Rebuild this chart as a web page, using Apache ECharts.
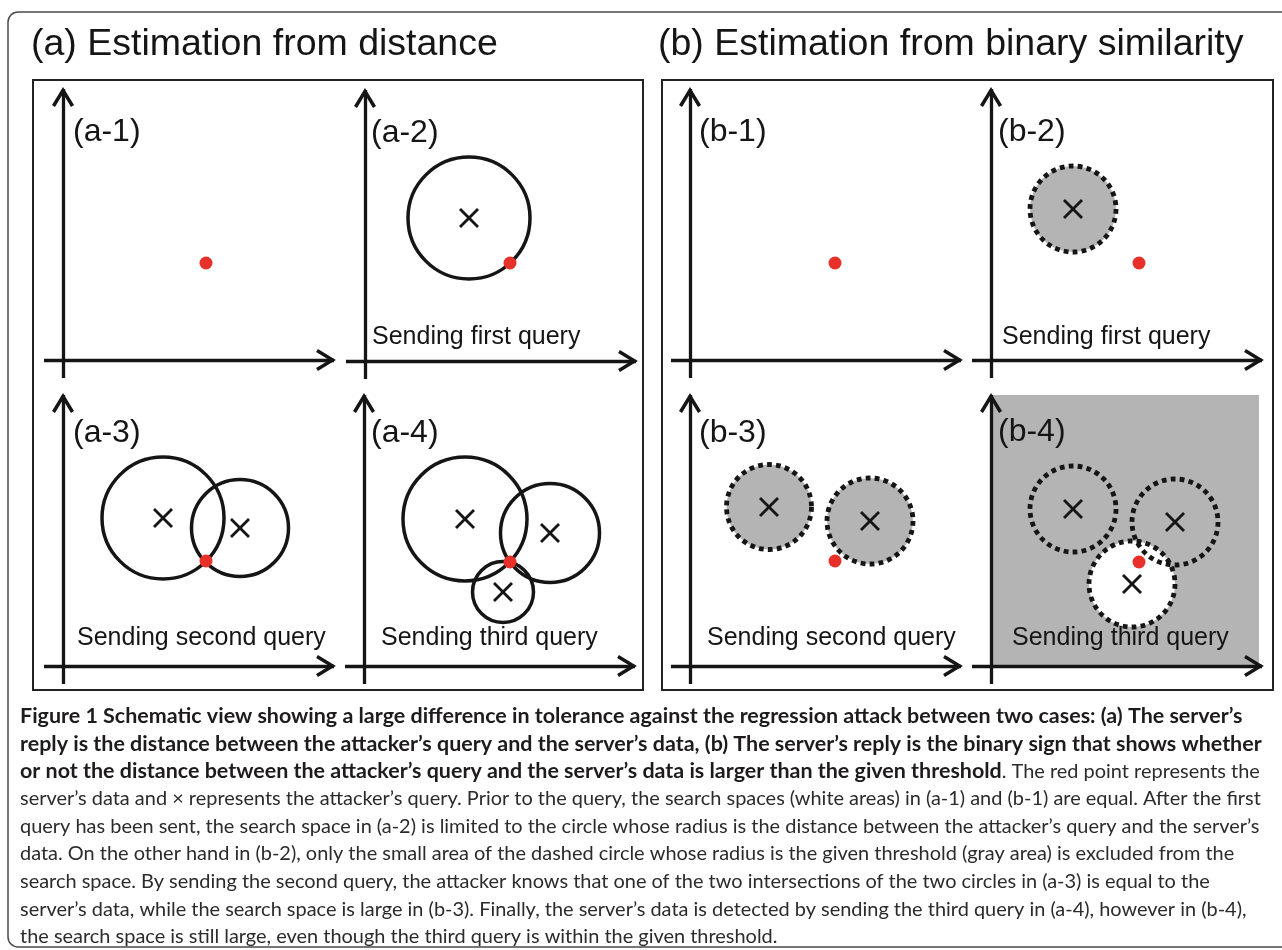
<!DOCTYPE html>
<html>
<head>
<meta charset="utf-8">
<script src="https://cdn.jsdelivr.net/npm/echarts@6/dist/echarts.min.js"></script>
<style>html,body{margin:0;padding:0;background:#fff}#c{width:1282px;height:950px}</style>
</head>
<body>
<div id="c"></div>
<script>
// ---------------- DATA (1 unit ≈ 1 px in each panel) ----------------
const groupTitles = ['(a) Estimation from distance', '(b) Estimation from binary similarity'];
const panelIds = ['(a-1)', '(a-2)', '(a-3)', '(a-4)', '(b-1)', '(b-2)', '(b-3)', '(b-4)'];
const panelNotes = ['', 'Sending first query', 'Sending second query', 'Sending third query',
                    '', 'Sending first query', 'Sending second query', 'Sending third query'];
// server's data (red point) in each panel
const serverX = [143, 145, 143, 146, 145, 148, 145, 148];
const serverY = [97, 98, 105, 104, 97, 97, 105, 104];
// attacker's queries (× marks) in each panel
const queryX = [[], [104], [100, 177], [101, 186, 139], [], [82], [79, 180], [82, 184, 141]];
const queryY = [[], [143], [148, 138], [147, 133, 74], [], [151], [159, 145], [157, 144, 82]];
// circle radius around each query (distance in (a), threshold in (b))
const queryRadius = [[], [61], [61, 48.5], [62, 49.5, 30.5], [], [43], [42.5, 43], [43, 43, 43]];
// in (b): 1 = area excluded from the search space (gray), 0 = kept (white)
const queryExcluded = [[], [0], [0, 0], [0, 0, 0], [], [1], [1, 1], [1, 1, 0]];
// (b-4): remaining search space shown gray
const grayPanel = 7;
const grayFrom = [0, 0];
const grayTo = [268, 271];
const axisXRange = [-19, 271];
const axisYRange = [-18, 271];

const captionLines = [
  [['b', 'Figure 1 Schematic view showing a large difference in tolerance against the regression attack between two cases: (a) The server\u2019s']],
  [['b', 'reply is the distance between the attacker\u2019s query and the server\u2019s data, (b) The server\u2019s reply is the binary sign that shows whether']],
  [['b', 'or not the distance between the attacker\u2019s query and the server\u2019s data is larger than the given threshold'], ['r', '. The red point represents the']],
  [['r', 'server\u2019s data and \u00d7 represents the attacker\u2019s query. Prior to the query, the search spaces (white areas) in (a-1) and (b-1) are equal. After the first']],
  [['r', 'query has been sent, the search space in (a-2) is limited to the circle whose radius is the distance between the attacker\u2019s query and the server\u2019s']],
  [['r', 'data. On the other hand in (b-2), only the small area of the dashed circle whose radius is the given threshold (gray area) is excluded from the']],
  [['r', 'search space. By sending the second query, the attacker knows that one of the two intersections of the two circles in (a-3) is equal to the']],
  [['r', 'server\u2019s data, while the search space is large in (b-3). Finally, the server\u2019s data is detected by sending the third query in (a-4), however in (b-4),']],
  [['r', 'the search space is still large, even though the third query is within the given threshold.']]
];

// ---------------- LAYOUT ----------------
const origins = [[63, 360], [365, 361], [63, 666], [364, 666], [690, 360], [991, 360], [690, 666], [991, 666]];
const idPos = [[73, 132], [371, 133], [73, 433], [371, 433], [699, 132], [998, 132], [699, 433], [998, 432]];
const notePos = [null, [372, 337], [77, 638], [381, 638], null, [1002, 337], [707, 638], [1012, 638]];
const GRAY = '#b4b4b4';
const INK = '#151515';
const ARROW = 'path://M11,0 L22,18 L19,19.8 L11,6.7 L3,19.8 L0,18 Z';
const CROSS = 'path://M0,2 L2,0 L10,8 L18,0 L20,2 L12,10 L20,18 L18,20 L10,12 L2,20 L0,18 L8,10 Z';
const SANS = '"Liberation Sans", Arial, sans-serif';
const CAP = 'Lato, "Open Sans", sans-serif';

const mctx = document.createElement('canvas').getContext('2d');
function measure(text, weight, family) {
  mctx.font = weight + ' 100px ' + family;
  return mctx.measureText(text).width;
}
const CAP_W = 1242;
let boldSize = Math.min(100 * CAP_W / measure(captionLines[0][0][1], 'bold', CAP),
                        100 * CAP_W / measure(captionLines[1][0][1], 'bold', CAP));
let regSize = Math.min(100 * CAP_W / measure(captionLines[3][0][1], 'normal', CAP),
                       100 * CAP_W / measure(captionLines[4][0][1], 'normal', CAP));
const mixedW = measure(captionLines[2][0][1], 'bold', CAP) * boldSize / 100 +
               measure(captionLines[2][1][1], 'normal', CAP) * regSize / 100;
if (mixedW > CAP_W) { boldSize *= CAP_W / mixedW; regSize *= CAP_W / mixedW; }

const grids = [], xAxes = [], yAxes = [], series = [], titles = [];
const axisLineCfg = {
  show: true, onZero: true, symbol: ['none', ARROW], symbolSize: [22, 20], symbolOffset: [0, -8],
  lineStyle: { color: INK, width: 3.3, cap: 'butt' }
};

function circleRenderer(stage, threshold) {
  return function (params, api) {
    const c = api.coord([api.value(0), api.value(1)]);
    const r = api.size([api.value(2), 0])[0];
    if (stage === 'fill') {
      return { type: 'circle', shape: { cx: c[0], cy: c[1], r: r },
               style: { fill: api.value(3) === 1 ? GRAY : '#ffffff', stroke: null } };
    }
    return { type: 'circle', shape: { cx: c[0], cy: c[1], r: r },
             style: threshold
               ? { fill: 'none', stroke: INK, lineWidth: 4.8, lineDash: [4.8, 4.2], lineCap: 'butt' }
               : { fill: 'none', stroke: INK, lineWidth: 3.5 } };
  };
}

panelIds.forEach(function (id, i) {
  const o = origins[i];
  const threshold = i >= 4;
  grids.push({ left: o[0] + axisXRange[0], top: o[1] - axisYRange[1],
               width: axisXRange[1] - axisXRange[0], height: axisYRange[1] - axisYRange[0],
               outerBoundsMode: 'none' });
  xAxes.push({ gridIndex: i, type: 'value', min: axisXRange[0], max: axisXRange[1], z: 8,
               axisLine: axisLineCfg, axisTick: { show: false }, axisLabel: { show: false }, splitLine: { show: false } });
  yAxes.push({ gridIndex: i, type: 'value', min: axisYRange[0], max: axisYRange[1], z: 8,
               axisLine: axisLineCfg, axisTick: { show: false }, axisLabel: { show: false }, splitLine: { show: false } });

  const circles = queryX[i].map(function (x, k) { return [x, queryY[i][k], queryRadius[i][k], queryExcluded[i][k]]; });
  if (threshold) {
    const fillSeries = {
      type: 'custom', xAxisIndex: i, yAxisIndex: i, z: 2, silent: true, animation: false,
      encode: { x: 0, y: 1 }, data: circles, renderItem: circleRenderer('fill', true)
    };
    if (i === grayPanel) {
      fillSeries.markArea = {
        silent: true, z: 1,
        itemStyle: { color: GRAY, opacity: 1, borderWidth: 0 },
        data: [[{ coord: grayFrom }, { coord: grayTo }]]
      };
    }
    series.push(fillSeries);
  }
  series.push({
    type: 'custom', xAxisIndex: i, yAxisIndex: i, z: 3, silent: true, animation: false,
    encode: { x: 0, y: 1 }, data: circles, renderItem: circleRenderer('outline', threshold)
  });
  series.push({
    type: 'scatter', xAxisIndex: i, yAxisIndex: i, z: 4, silent: true, animation: false,
    symbol: CROSS, symbolSize: 20, itemStyle: { color: INK, opacity: 1 },
    data: queryX[i].map(function (x, k) { return [x, queryY[i][k]]; })
  });
  series.push({
    type: 'scatter', xAxisIndex: i, yAxisIndex: i, z: 5, silent: true, animation: false,
    symbol: 'circle', symbolSize: 13, itemStyle: { color: '#e8302a', opacity: 1 },
    data: [[serverX[i], serverY[i]]]
  });

  titles.push({ text: id, left: idPos[i][0], top: idPos[i][1] - 16, padding: 0,
                textStyle: { fontFamily: SANS, fontSize: 32, lineHeight: 32, fontWeight: 'normal', color: INK } });
  if (panelNotes[i]) {
    titles.push({ text: panelNotes[i], left: notePos[i][0], top: notePos[i][1] - 12.5, padding: 0,
                  textStyle: { fontFamily: SANS, fontSize: 25, lineHeight: 25, fontWeight: 'normal', color: INK } });
  }
});

titles.push({ text: groupTitles[0], left: 31, top: 45 - 19, padding: 0,
              textStyle: { fontFamily: SANS, fontSize: 37.5, lineHeight: 38, fontWeight: 'normal', color: INK } });
titles.push({ text: groupTitles[1], left: 658, top: 45 - 19, padding: 0,
              textStyle: { fontFamily: SANS, fontSize: 37.5, lineHeight: 38, fontWeight: 'normal', color: INK } });

const capTop = 716, capStep = 27.6;
captionLines.forEach(function (parts, j) {
  const text = parts.map(function (p) { return '{' + p[0] + '|' + p[1] + '}'; }).join('');
  titles.push({
    text: text, left: 20, top: capTop + j * capStep - 14, padding: 0,
    textStyle: {
      rich: {
        b: { fontFamily: CAP, fontWeight: 'bold', fontSize: boldSize, lineHeight: 28, color: '#1e1b1c' },
        r: { fontFamily: CAP, fontWeight: 'normal', fontSize: regSize, lineHeight: 28, color: '#2b2b2b' }
      }
    }
  });
});

const chart = echarts.init(document.getElementById('c'), null, { renderer: 'canvas' });
chart.setOption({
  animation: false,
  backgroundColor: '#ffffff',
  title: titles,
  grid: grids,
  xAxis: xAxes,
  yAxis: yAxes,
  series: series,
  graphic: [
    { type: 'rect', shape: { x: 8, y: 12, width: 1300, height: 935, r: 10 }, style: { fill: 'none', stroke: '#4a4a4a', lineWidth: 1.5 }, silent: true },
    { type: 'rect', shape: { x: 33, y: 80, width: 610, height: 610 }, style: { fill: 'none', stroke: '#222', lineWidth: 2 }, silent: true },
    { type: 'rect', shape: { x: 662, y: 80, width: 611, height: 610 }, style: { fill: 'none', stroke: '#222', lineWidth: 2 }, silent: true }
  ]
});
</script>
</body>
</html>
